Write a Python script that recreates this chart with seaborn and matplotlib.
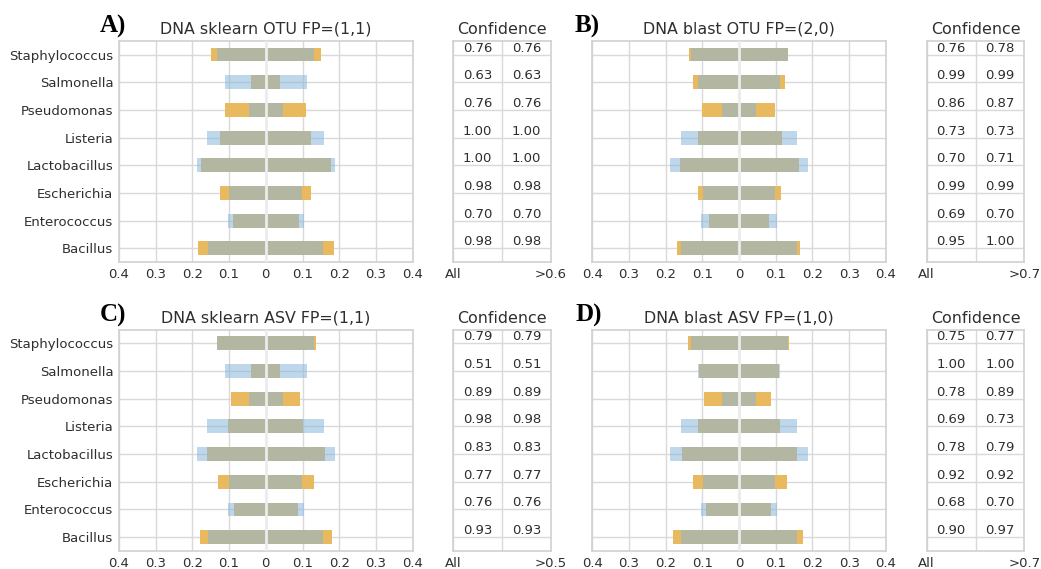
import numpy as np
import matplotlib
matplotlib.use("Agg")
import matplotlib.pyplot as plt
from matplotlib.ticker import FuncFormatter
import seaborn as sns

# ---------------- data ----------------
categories = ["Staphylococcus", "Salmonella", "Pseudomonas", "Listeria",
              "Lactobacillus", "Escherichia", "Enterococcus", "Bacillus"]
expected = [0.132, 0.112, 0.046, 0.159, 0.188, 0.099, 0.103, 0.157]

titles = ["DNA sklearn OTU FP=(1,1)", "DNA blast OTU FP=(2,0)",
          "DNA sklearn ASV FP=(1,1)", "DNA blast ASV FP=(1,0)"]
letters = ["A)", "B)", "C)", "D)"]
thresholds = [">0.6", ">0.7", ">0.5", ">0.7"]

# predicted abundance: all assignments (left) / confident assignments (right)
a_all = [0.149, 0.039, 0.110, 0.124, 0.177, 0.124, 0.090, 0.185]
a_conf = [0.150, 0.039, 0.110, 0.124, 0.178, 0.124, 0.091, 0.185]
b_all = [0.137, 0.125, 0.100, 0.113, 0.162, 0.113, 0.083, 0.169]
b_conf = [0.133, 0.125, 0.098, 0.116, 0.162, 0.114, 0.082, 0.165]
c_all = [0.134, 0.040, 0.094, 0.102, 0.161, 0.130, 0.087, 0.179]
c_conf = [0.136, 0.040, 0.093, 0.102, 0.162, 0.130, 0.088, 0.180]
d_all = [0.138, 0.108, 0.095, 0.111, 0.155, 0.126, 0.090, 0.181]
d_conf = [0.137, 0.108, 0.088, 0.111, 0.159, 0.130, 0.087, 0.175]

# confidence table values
a_c_all = [0.76, 0.63, 0.76, 1.00, 1.00, 0.98, 0.70, 0.98]
a_c_thr = [0.76, 0.63, 0.76, 1.00, 1.00, 0.98, 0.70, 0.98]
b_c_all = [0.76, 0.99, 0.86, 0.73, 0.70, 0.99, 0.69, 0.95]
b_c_thr = [0.78, 0.99, 0.87, 0.73, 0.71, 0.99, 0.70, 1.00]
c_c_all = [0.79, 0.51, 0.89, 0.98, 0.83, 0.77, 0.76, 0.93]
c_c_thr = [0.79, 0.51, 0.89, 0.98, 0.83, 0.77, 0.76, 0.93]
d_c_all = [0.75, 1.00, 0.78, 0.69, 0.78, 0.92, 0.68, 0.90]
d_c_thr = [0.77, 1.00, 0.89, 0.73, 0.79, 0.92, 0.70, 0.97]

panels = [
    (a_all, a_conf, a_c_all, a_c_thr),
    (b_all, b_conf, b_c_all, b_c_thr),
    (c_all, c_conf, c_c_all, c_c_thr),
    (d_all, d_conf, d_c_all, d_c_thr),
]

# ---------------- style ----------------
sns.set_theme(style="whitegrid")
plt.rcParams["font.family"] = ["DejaVu Sans"]
plt.rcParams["axes.edgecolor"] = "0.82"
plt.rcParams["grid.color"] = "0.85"
plt.rcParams["axes.linewidth"] = 1.2
plt.rcParams["grid.linewidth"] = 1.0

ORANGE = "#e9b95f"
BLUE = (132 / 255, 181 / 255, 219 / 255)
TICK_FS = 9.5
TITLE_FS = 11.4
TXT = "0.18"

W, H = 1041, 569
fig = plt.figure(figsize=(W / 100, H / 100), dpi=100)

# pixel layout
bar_lefts = [119, 592.3, 119, 592.3]
tab_lefts = [453.3, 926.7, 453.3, 926.7]
tops = [40.7, 40.7, 329.5, 329.5]
bar_w, tab_w, ax_h = 293.6, 97.7, 221.5
letter_pos = [(100, 33), (575, 33), (100, 322), (575, 322)]

fmt = FuncFormatter(lambda v, p: "0" if abs(v) < 1e-9 else f"{abs(v):.1f}")

for i, (v_all, v_conf, c_all, c_thr) in enumerate(panels):
    top = tops[i]
    ax = fig.add_axes([bar_lefts[i] / W, 1 - (top + ax_h) / H, bar_w / W, ax_h / H])
    # predicted (orange) first, expected (blue, translucent) on top
    for vals, sign in ((v_all, -1), (v_conf, 1)):
        sns.barplot(x=sign * np.array(vals), y=categories, orient="h",
                    color=ORANGE, saturation=1, width=0.5, linewidth=0,
                    errorbar=None, ax=ax, zorder=2)
    for sign in (-1, 1):
        sns.barplot(x=sign * np.array(expected), y=categories, orient="h",
                    color=BLUE, saturation=1, width=0.5, linewidth=0,
                    alpha=0.53, errorbar=None, ax=ax, zorder=3)
    ax.axvline(0, color="#ececec", lw=2.0, zorder=4)
    ax.set_xlim(-0.4, 0.4)
    ax.set_xticks(np.round(np.arange(-0.4, 0.41, 0.1), 2))
    ax.xaxis.set_major_formatter(fmt)
    ax.set_ylim(len(categories) - 0.5, -0.5)
    ax.grid(True, axis="both")
    ax.set_axisbelow(True)
    ax.set_xlabel("")
    ax.set_ylabel("")
    ax.tick_params(axis="both", labelsize=TICK_FS, colors=TXT, length=0)
    ax.tick_params(axis="x", pad=4)
    ax.tick_params(axis="y", pad=4)
    if i % 2 == 1:
        ax.set_yticklabels([])
    for s in ax.spines.values():
        s.set_visible(True)
        s.set_color("0.82")
    ax.set_title(titles[i], fontsize=TITLE_FS, color=TXT, pad=5)

    # confidence table
    tx = fig.add_axes([tab_lefts[i] / W, 1 - (top + ax_h) / H, tab_w / W, ax_h / H])
    tx.set_xlim(0, 1)
    tx.set_ylim(len(categories) - 0.5, -0.5)
    tx.set_yticks(range(len(categories)))
    tx.set_yticklabels([])
    tx.set_xticks([0, 0.5, 1])
    tx.set_xticklabels(["All", "", thresholds[i]])
    tx.grid(True, axis="both")
    tx.tick_params(axis="both", labelsize=TICK_FS, colors=TXT, length=0)
    tx.tick_params(axis="x", pad=4)
    for s in tx.spines.values():
        s.set_visible(True)
        s.set_color("0.82")
    for r, (ca, ct) in enumerate(zip(c_all, c_thr)):
        tx.text(0.25, r, f"{ca:.2f}", ha="center", va="bottom", fontsize=TICK_FS, color=TXT)
        tx.text(0.75, r, f"{ct:.2f}", ha="center", va="bottom", fontsize=TICK_FS, color=TXT)
    tx.set_title("Confidence", fontsize=TITLE_FS, color=TXT, pad=5)

    lx, ly = letter_pos[i]
    fig.text(lx / W, 1 - ly / H, letters[i], family="Liberation Serif",
             fontweight="bold", fontsize=18, color="black", va="baseline")

fig.savefig("out.png", dpi=100)
